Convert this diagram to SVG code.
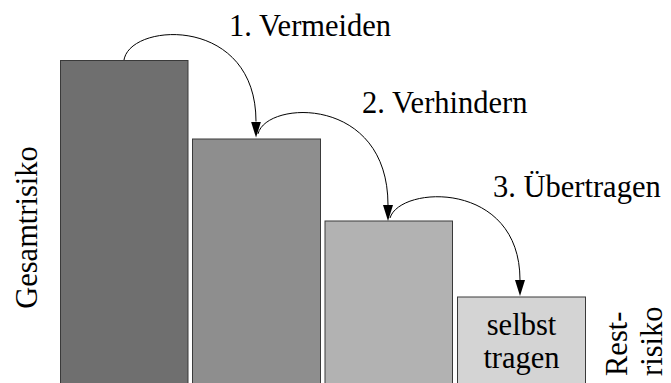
<svg xmlns="http://www.w3.org/2000/svg" width="671" height="383" viewBox="0 0 671 383">
  <style>
    .bar { stroke: #3a3a3a; stroke-width: 1; }
    .lbl { font-family: "Liberation Serif", Tinos, "Nimbus Roman", "Nimbus Roman No9 L", "TeX Gyre Termes", FreeSerif, "Noto Serif", "DejaVu Serif", "Times New Roman", serif; font-size: 30.5px; fill: #000; }
    .arc { fill: none; stroke: #000; stroke-width: 1; }
  </style>
  <defs>
    <marker id="head" viewBox="0 0 16 10" refX="0" refY="5" markerWidth="16" markerHeight="10" markerUnits="userSpaceOnUse" orient="auto">
      <path d="M0,0 L16,5 L0,10 z" fill="#000"/>
    </marker>
  </defs>
  <rect width="671" height="383" fill="#fff"/>

  <g id="gesamtrisiko">
    <rect class="bar" x="60.5" y="60.5" width="127.5" height="330" fill="#6f6f6f"/>
    <text class="lbl" text-anchor="middle" transform="translate(37,227.5) rotate(-90)">Gesamtrisiko</text>
  </g>

  <g id="nach-vermeiden">
    <rect class="bar" x="192.5" y="139" width="128" height="250" fill="#8e8e8e"/>
  </g>

  <g id="nach-verhindern">
    <rect class="bar" x="325" y="221" width="127.5" height="170" fill="#b2b2b2"/>
  </g>

  <g id="selbst-tragen">
    <rect class="bar" x="457.5" y="297" width="128" height="100" fill="#d4d4d4"/>
    <text class="lbl" x="521.5" y="335" text-anchor="middle">selbst</text>
    <text class="lbl" x="521.5" y="368" text-anchor="middle">tragen</text>
  </g>

  <g id="restrisiko">
    <text class="lbl" transform="translate(627,376) rotate(-90)">Rest-</text>
    <text class="lbl" transform="translate(662,376) rotate(-90)">risiko</text>
  </g>

  <g id="connectors">
    <path class="arc" d="M124,60 C130,22 256,15 256,121.5" marker-end="url(#head)"/>
    <path class="arc" d="M258,134 C266,100 388,95 388,205" marker-end="url(#head)"/>
    <path class="arc" d="M390,218 C400,185 520,180 520,280" marker-end="url(#head)"/>
    <text class="lbl" x="229" y="36">1. Vermeiden</text>
    <text class="lbl" x="362" y="113">2. Verhindern</text>
    <text class="lbl" x="493" y="197">3. Übertragen</text>
  </g>
</svg>
